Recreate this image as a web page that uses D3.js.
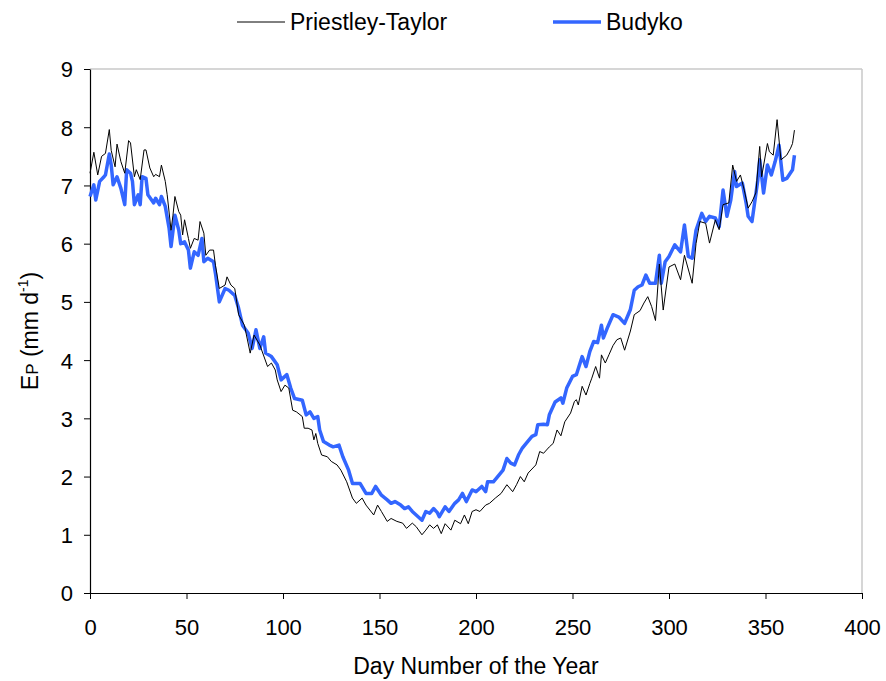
<!DOCTYPE html>
<html>
<head>
<meta charset="utf-8">
<script src="https://cdn.jsdelivr.net/npm/d3@7"></script>
<style>
  html, body { margin: 0; padding: 0; background: #fff; }
  svg text { font-family: "Liberation Sans", Arial, sans-serif; fill: #000; }
</style>
</head>
<body>
<svg id="chart" width="886" height="681"></svg>
<script>
// Daily potential evaporation, Priestley-Taylor method
const ptDays = [0,2,4,6,8,10,11,13,14,16,18,20,21,23,24,26,28,29,31,33,34,36,37,39,40,42,43,44,46,47,48,49,51,52,54,56,57,59,60,62,64,65,67,70,71,73,75,77,80,83,85,88,92,94,96,97,99,101,103,105,107,110,111,113,115,116,117,118,120,123,125,128,130,133,136,138,141,143,147,149,151,154,156,159,162,164,167,169,172,174,176,178,180,182,184,187,189,192,194,196,198,200,202,205,207,210,213,216,219,221,223,225,227,231,233,235,238,240,242,244,246,249,251,252,253,255,257,259,260,262,264,265,267,269,271,273,275,277,280,282,285,287,289,291,293,295,297,300,303,306,308,312,314,316,319,321,324,326,328,331,333,335,337,339,341,343,345,347,348,351,352,354,356,358,361,363,364,365];
const ptValues = [7.21,7.57,7.18,7.50,7.55,7.96,7.60,7.32,7.71,7.41,7.21,7.77,7.73,7.15,7.27,7.10,7.61,7.61,7.30,7.15,7.19,7.15,7.35,7.07,6.84,6.23,6.49,6.81,6.55,6.49,6.15,6.41,6.09,5.92,6.09,6.06,6.38,6.18,5.80,5.89,5.89,5.63,5.23,5.29,5.43,5.29,5.23,4.78,4.60,4.12,4.43,4.26,3.89,3.95,3.83,3.66,3.46,3.57,3.52,3.14,3.11,3.03,2.83,2.83,2.80,2.63,2.74,2.57,2.37,2.34,2.26,2.20,2.11,1.91,1.63,1.54,1.63,1.51,1.34,1.51,1.40,1.23,1.28,1.23,1.20,1.11,1.20,1.14,1.00,1.08,1.17,1.11,1.17,1.02,1.19,1.08,1.25,1.19,1.34,1.19,1.40,1.43,1.40,1.51,1.54,1.63,1.71,1.86,1.74,1.86,2.00,1.91,2.06,2.20,2.43,2.40,2.51,2.57,2.80,2.70,2.94,3.09,3.29,3.32,3.23,3.55,3.40,3.60,3.69,3.89,3.69,4.09,3.95,4.10,4.25,4.35,4.38,4.17,4.50,4.78,4.85,4.98,5.09,4.92,4.68,5.65,4.86,5.60,5.65,5.38,5.80,5.32,6.00,6.38,6.35,6.01,6.41,6.24,6.67,6.70,7.35,7.07,7.18,6.92,6.61,6.72,6.87,7.67,7.15,7.72,7.58,7.52,8.13,7.44,7.52,7.64,7.72,7.95];

// Daily potential evaporation, Budyko method
const bdDays = [0,2,3,5,7,8,10,11,12,14,16,18,19,21,22,23,25,26,27,29,30,33,34,36,37,39,41,42,44,46,47,49,51,52,54,56,58,59,61,64,65,67,70,72,75,77,79,82,84,86,88,90,91,94,97,99,102,104,106,110,112,114,116,118,119,121,124,126,129,131,134,136,140,143,146,148,151,154,156,158,161,163,165,167,169,172,174,176,178,180,181,184,186,189,191,193,195,198,200,203,205,206,209,212,214,216,218,220,222,224,226,229,231,232,235,237,238,241,244,245,247,250,252,255,257,259,261,263,265,266,268,271,274,277,280,282,284,286,288,290,293,295,296,298,300,303,306,308,310,312,314,317,319,321,324,326,328,330,332,334,335,338,340,341,343,346,347,349,351,353,355,357,359,361,364,365];
const bdValues = [6.81,7.01,6.75,7.07,7.14,7.18,7.54,7.35,7.01,7.15,6.95,6.67,7.27,7.21,7.07,6.67,6.84,6.67,7.15,7.12,6.84,6.70,6.78,6.67,6.81,6.64,6.26,5.95,6.49,6.23,6.00,6.03,5.89,5.58,5.86,5.80,6.09,5.69,5.75,5.69,5.49,5.00,5.23,5.20,5.11,4.89,4.60,4.46,4.20,4.52,4.20,4.40,4.12,4.06,3.92,3.66,3.75,3.52,3.34,3.31,3.06,3.11,3.00,3.03,2.80,2.60,2.54,2.51,2.54,2.34,2.11,1.88,1.88,1.71,1.71,1.83,1.68,1.60,1.54,1.57,1.51,1.45,1.48,1.40,1.34,1.25,1.40,1.37,1.45,1.38,1.31,1.48,1.40,1.54,1.60,1.71,1.57,1.77,1.74,1.83,1.74,1.91,1.91,2.03,2.11,2.31,2.23,2.20,2.37,2.49,2.57,2.69,2.72,2.89,2.90,2.89,3.06,3.28,3.35,3.26,3.52,3.72,3.75,4.06,3.89,4.15,4.32,4.30,4.60,4.38,4.55,4.78,4.74,4.63,4.87,5.20,5.26,5.29,5.46,5.32,5.32,5.80,5.32,5.69,5.78,5.98,5.86,6.32,5.78,5.75,6.23,6.52,6.38,6.47,6.44,6.29,6.92,6.47,6.75,7.24,6.98,7.04,6.69,6.47,6.38,7.09,7.44,6.87,7.35,7.18,7.41,7.69,7.09,7.12,7.27,7.52];

const xTicks = [0,50,100,150,200,250,300,350,400];
const yTicks = [0,1,2,3,4,5,6,7,8,9];
const seriesNames = ["Priestley-Taylor", "Budyko"];

const svg = d3.select("#chart");
const margin = {left: 90, top: 69, right: 24, bottom: 88};
const W = 886, H = 681;
const x = d3.scaleLinear().domain([0, 400]).range([margin.left, W - margin.right]);
const y = d3.scaleLinear().domain([0, 9]).range([H - margin.bottom, margin.top]);

// Plot frame: light grey on top and right
svg.append("line").attr("x1", x(0)).attr("x2", x(400)).attr("y1", y(9)).attr("y2", y(9))
  .attr("stroke", "#c8c8c8").attr("stroke-width", 1.5);
svg.append("line").attr("x1", x(400)).attr("x2", x(400)).attr("y1", y(9)).attr("y2", y(0))
  .attr("stroke", "#c8c8c8").attr("stroke-width", 1.5);

// Axes
const xAxis = d3.axisBottom(x).tickValues(xTicks).tickSize(6).tickSizeOuter(0).tickPadding(20);
const yAxis = d3.axisLeft(y).tickValues(yTicks).tickSize(6).tickSizeOuter(0).tickPadding(11);

const gx = svg.append("g").attr("transform", `translate(0,${y(0)})`).call(xAxis);
const gy = svg.append("g").attr("transform", `translate(${x(0)},0)`).call(yAxis);
[gx, gy].forEach(g => {
  g.select(".domain").attr("stroke", "#000").attr("stroke-width", 1.2);
  g.selectAll(".tick line").attr("stroke", "#000").attr("stroke-width", 1);
  g.selectAll(".tick text").attr("font-size", 22).attr("font-family", "Liberation Sans, Arial, sans-serif").attr("fill", "#000");
});
gy.selectAll(".tick text").attr("dy", "0.36em");

// Series lines
const line = d3.line().x(d => x(d[0])).y(d => y(d[1]));
const ptData = ptDays.map((d, i) => [d, ptValues[i]]);
const bdData = bdDays.map((d, i) => [d, bdValues[i]]);

svg.append("path").datum(bdData).attr("d", line)
  .attr("fill", "none").attr("stroke", "#3366ff").attr("stroke-width", 3.5)
  .attr("stroke-linejoin", "round");
svg.append("path").datum(ptData).attr("d", line)
  .attr("fill", "none").attr("stroke", "#000").attr("stroke-width", 1)
  .attr("stroke-linejoin", "round");

// Axis titles
svg.append("text").attr("x", (x(0) + x(400)) / 2).attr("y", 674)
  .attr("text-anchor", "middle").attr("font-size", 23).text("Day Number of the Year");

const yt = svg.append("text").attr("transform", `translate(38,${(y(0) + y(9)) / 2}) rotate(-90)`)
  .attr("text-anchor", "middle").attr("font-size", 23);
yt.append("tspan").text("E");
yt.append("tspan").attr("font-size", 17).text("P");
yt.append("tspan").text(" (mm d");
yt.append("tspan").attr("font-size", 14).attr("dy", -10).text("-1");
yt.append("tspan").attr("dy", 10).text(")");

// Legend
const legend = svg.append("g");
const legendItems = [
  {name: seriesNames[0], color: "#000", width: 1, x0: 237},
  {name: seriesNames[1], color: "#3366ff", width: 3.5, x0: 553}
];
legendItems.forEach(it => {
  legend.append("line").attr("x1", it.x0).attr("x2", it.x0 + 48).attr("y1", 22).attr("y2", 22)
    .attr("stroke", it.color).attr("stroke-width", it.width);
  legend.append("text").attr("x", it.x0 + 53).attr("y", 30).attr("font-size", 23).text(it.name);
});
</script>
</body>
</html>
